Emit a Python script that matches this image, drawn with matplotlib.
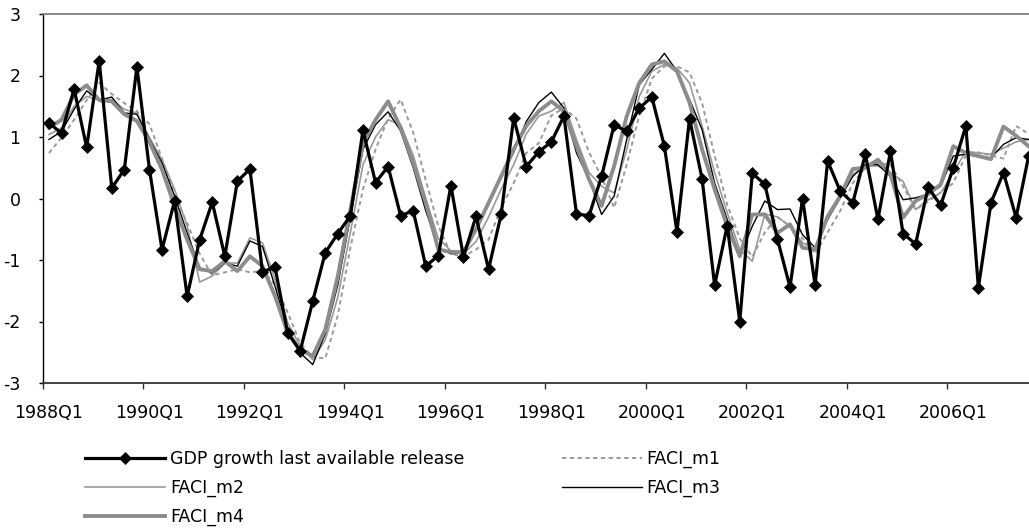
import matplotlib
matplotlib.use("Agg")
import matplotlib.pyplot as plt
import numpy as np

plt.rcParams['font.family'] = ['DejaVu Sans']
plt.rcParams['axes.unicode_minus'] = False

# quarterly data, 1988Q1 .. 2007Q3
tick_labels = ["1988Q1", "1990Q1", "1992Q1", "1994Q1", "1996Q1",
               "1998Q1", "2000Q1", "2002Q1", "2004Q1", "2006Q1"]

gdp = [1.23, 1.06, 1.78, 0.83, 2.24, 0.17, 0.47, 2.14, 0.47, -0.83,
       -0.04, -1.59, -0.67, -0.06, -0.94, 0.28, 0.48, -1.19, -1.12, -2.18,
       -2.48, -1.67, -0.88, -0.57, -0.28, 1.11, 0.26, 0.52, -0.28, -0.20,
       -1.10, -0.93, 0.21, -0.95, -0.29, -1.15, -0.26, 1.31, 0.52, 0.76,
       0.92, 1.34, -0.25, -0.28, 0.36, 1.20, 1.09, 1.47, 1.65, 0.85,
       -0.54, 1.30, 0.32, -1.41, -0.44, -2.00, 0.41, 0.23, -0.66, -1.44,
       0.00, -1.41, 0.61, 0.12, -0.07, 0.72, -0.34, 0.77, -0.57, -0.74,
       0.18, -0.11, 0.50, 1.18, -1.45, -0.07, 0.42, -0.31, 0.69]

faci_m1 = [0.74, 0.99, 1.28, 1.60, 1.88, 1.70, 1.55, 1.42, 1.21, 0.65,
           0.05, -0.40, -0.90, -1.25, -1.20, -1.15, -1.20, -1.18, -1.40, -1.85,
           -2.35, -2.58, -2.60, -1.90, -0.80, 0.15, 0.80, 1.30, 1.61, 1.07,
           0.30, -0.45, -0.90, -0.94, -0.83, -0.67, -0.15, 0.25, 0.74, 0.90,
           1.35, 1.47, 1.30, 0.75, 0.35, -0.15, 0.55, 1.35, 1.95, 2.15,
           2.15, 2.05, 1.55, 0.70, -0.10, -0.65, -0.95, -0.55, -0.30, -0.45,
           -0.65, -0.90, -0.55, -0.20, 0.25, 0.50, 0.58, 0.55, 0.20, -0.18,
           -0.05, 0.10, 0.25, 0.70, 0.75, 0.70, 0.65, 1.18, 1.05]

faci_m2 = [1.04, 1.15, 1.50, 1.66, 1.60, 1.61, 1.45, 1.39, 0.99, 0.63,
           0.15, -0.45, -1.36, -1.26, -1.05, -1.05, -0.64, -0.72, -1.32, -2.02,
           -2.40, -2.62, -2.30, -1.60, -0.55, 0.55, 1.00, 1.28, 1.20, 0.70,
           0.00, -0.65, -0.85, -0.90, -0.70, -0.30, 0.15, 0.55, 1.05, 1.34,
           1.42, 1.56, 0.96, 0.42, 0.20, 0.09, 0.80, 1.66, 2.07, 2.18,
           2.12, 1.88, 1.18, 0.42, -0.23, -0.83, -1.02, -0.25, -0.30, -0.45,
           -0.72, -0.83, -0.29, 0.04, 0.39, 0.53, 0.53, 0.42, 0.28, -0.18,
           -0.02, 0.09, 0.42, 0.77, 0.74, 0.72, 0.82, 0.92, 0.96]

faci_m3 = [0.96, 1.09, 1.45, 1.75, 1.60, 1.65, 1.39, 1.37, 0.96, 0.58,
           0.04, -0.56, -1.13, -1.21, -1.05, -1.10, -0.69, -0.78, -1.43, -2.13,
           -2.51, -2.70, -2.20, -1.40, -0.30, 0.80, 1.20, 1.41, 1.10, 0.50,
           -0.20, -0.80, -0.90, -0.88, -0.50, -0.05, 0.35, 0.75, 1.25, 1.56,
           1.73, 1.47, 0.74, 0.31, -0.26, 0.04, 0.96, 1.85, 2.10, 2.36,
           2.07, 1.61, 1.12, 0.25, -0.34, -0.94, -0.45, -0.04, -0.18, -0.17,
           -0.59, -0.80, -0.34, 0.01, 0.36, 0.55, 0.55, 0.36, -0.02, 0.01,
           0.07, 0.20, 0.69, 0.72, 0.68, 0.66, 0.88, 0.99, 0.96]

faci_m4 = [1.15, 1.28, 1.69, 1.84, 1.60, 1.58, 1.37, 1.26, 0.92, 0.47,
           -0.12, -0.67, -1.15, -1.18, -1.02, -1.18, -0.94, -1.10, -1.59, -2.18,
           -2.46, -2.56, -2.13, -1.26, -0.18, 0.90, 1.28, 1.58, 1.15, 0.58,
           -0.07, -0.83, -0.87, -0.87, -0.50, -0.07, 0.36, 0.80, 1.18, 1.42,
           1.58, 1.42, 0.85, 0.31, -0.12, 0.53, 1.34, 1.88, 2.18, 2.23,
           2.07, 1.56, 0.80, 0.15, -0.45, -0.94, -0.26, -0.26, -0.56, -0.42,
           -0.80, -0.83, -0.29, 0.04, 0.48, 0.50, 0.63, 0.39, -0.31, -0.04,
           0.07, 0.23, 0.85, 0.74, 0.69, 0.64, 1.17, 1.02, 0.85]

x = np.arange(len(gdp))

fig = plt.figure(figsize=(10.29, 5.30), dpi=100)
ax = fig.add_axes([42.7 / 1029, 1 - 383 / 530, 1 - 42.7 / 1029, 369 / 530])

l1, = ax.plot(x, faci_m1, color='#999999', lw=1.4, ls=(0, (2.2, 1.8)), label='FACI_m1')
l2, = ax.plot(x, faci_m2, color='#999999', lw=1.2, label='FACI_m2')
l3, = ax.plot(x, faci_m3, color='black', lw=1.0, label='FACI_m3')
l4, = ax.plot(x, faci_m4, color='#8c8c8c', lw=2.8, label='FACI_m4')
l0, = ax.plot(x, gdp, color='black', lw=2.3, marker='D', markersize=6.2,
              markeredgewidth=0.5, label='GDP growth last available release')

ax.set_ylim(-3, 3)
ax.set_xlim(-0.5, 78.03)
ax.set_yticks(range(-3, 4))

# tick marks between categories, labels centred on the category
label_pos = [8 * k for k in range(len(tick_labels))]
ax.set_xticks([p - 0.5 for p in label_pos])
ax.set_xticklabels([])
ax.set_xticks(label_pos, minor=True)
ax.set_xticklabels(tick_labels, minor=True)
ax.tick_params(axis='x', which='major', length=4.3, width=1.0, color='#333333')
ax.tick_params(axis='x', which='minor', length=0, pad=15, labelsize=12.5)
ax.tick_params(axis='y', length=3, width=1.0, pad=13, labelsize=12.5)

ax.spines['right'].set_visible(False)
ax.spines['top'].set_color('#808080')
ax.spines['top'].set_linewidth(1.3)
ax.spines['left'].set_color('black')
ax.spines['left'].set_linewidth(1.0)
ax.spines['bottom'].set_color('#333333')
ax.spines['bottom'].set_linewidth(1.3)

fig.legend([l0, l2, l4, l1, l3],
           [l0.get_label(), l2.get_label(), l4.get_label(), l1.get_label(), l3.get_label()],
           ncol=2, loc='upper left', bbox_to_anchor=(85 / 1029, 1 - 450 / 530),
           frameon=False, borderpad=0, borderaxespad=0, fontsize=12.5,
           handlelength=4.6, handletextpad=0.3, labelspacing=0.62, columnspacing=5.6)

fig.savefig('out.png', dpi=100)
